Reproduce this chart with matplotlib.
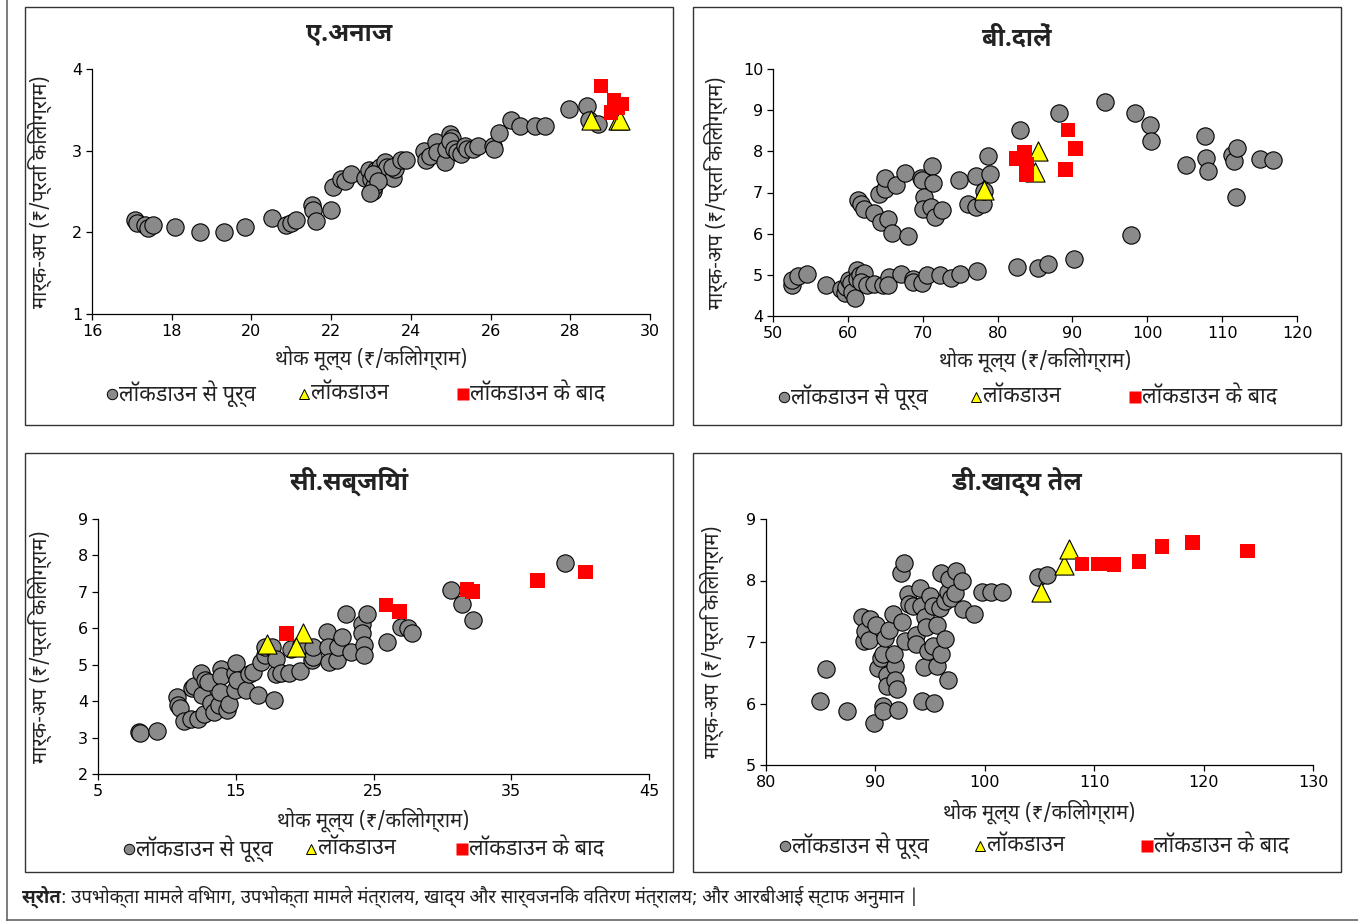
import os
import matplotlib
matplotlib.use("Agg")
import matplotlib.pyplot as plt
from matplotlib import font_manager
from matplotlib.font_manager import FontProperties
from matplotlib.patches import Rectangle
from matplotlib.lines import Line2D

# ---------------------------------------------------------------------------
# Fonts: register the Devanagari family and find a bold face for titles
# ---------------------------------------------------------------------------
BOLD_FILE = None
_bold_rank = 99
for f in font_manager.findSystemFonts():
    name = os.path.basename(f)
    if name.startswith("NotoSansDevanagari"):
        try:
            font_manager.fontManager.addfont(f)
        except Exception:
            pass
        rank = {"NotoSansDevanagari-Bold.ttf": 0,
                "NotoSansDevanagariUI-Bold.ttf": 1}.get(name, 99)
        if rank < _bold_rank:
            BOLD_FILE, _bold_rank = f, rank

HI = ["Noto Sans Devanagari", "DejaVu Sans"]
plt.rcParams["font.family"] = HI


def bold_font(size):
    if BOLD_FILE:
        return dict(fontproperties=FontProperties(fname=BOLD_FILE, size=size))
    return dict(fontsize=size, fontweight="bold")


# ---------------------------------------------------------------------------
# Data
# ---------------------------------------------------------------------------
# A. cereals
cer_pre_x = [17.07, 17.13, 17.32, 17.41, 17.53, 18.09, 18.70, 19.30, 19.83, 20.51,
             20.87, 20.99, 21.13, 21.53, 21.55, 21.62, 22.00, 22.05, 22.25, 22.34,
             22.50, 22.85, 22.94, 22.99, 23.04, 23.08, 23.13, 23.22, 23.27, 23.36,
             23.41, 23.55, 23.59, 23.52, 23.76, 23.87, 23.04, 23.17, 22.97, 24.34,
             24.39, 24.48, 24.62, 24.66, 24.85, 24.89, 24.99, 25.03, 24.99, 25.08,
             25.17, 25.27, 25.36, 25.41, 25.55, 25.69, 26.06, 26.09, 26.22, 26.52,
             26.75, 27.12, 27.36, 27.98, 28.41, 28.47, 28.70]
cer_pre_y = [2.15, 2.11, 2.09, 2.05, 2.09, 2.07, 2.00, 2.00, 2.07, 2.18,
             2.09, 2.11, 2.15, 2.33, 2.27, 2.14, 2.27, 2.56, 2.65, 2.63,
             2.71, 2.67, 2.76, 2.65, 2.51, 2.57, 2.76, 2.80, 2.72, 2.86,
             2.80, 2.67, 2.78, 2.80, 2.88, 2.88, 2.72, 2.63, 2.48, 3.00,
             2.88, 2.94, 3.10, 2.98, 2.86, 3.02, 3.20, 3.16, 3.12, 3.02,
             2.98, 2.96, 3.06, 3.02, 3.02, 3.06, 3.06, 3.02, 3.22, 3.38,
             3.30, 3.30, 3.30, 3.51, 3.55, 3.37, 3.33]
cer_lock_x = [28.52, 29.20, 29.25]
cer_lock_y = [3.38, 3.37, 3.38]
cer_post_x = [28.77, 29.10, 29.30, 29.02, 29.20]
cer_post_y = [3.79, 3.62, 3.57, 3.47, 3.52]

# B. pulses
pul_pre_x = [52.5, 52.6, 53.4, 54.5, 57.1, 59.1, 59.6, 59.8, 60.1, 60.4,
             60.6, 60.9, 61.2, 61.2, 61.6, 62.1, 61.8, 62.5, 63.5, 64.7,
             65.5, 65.4, 67.1, 68.7, 68.7, 69.9, 70.6, 72.3, 73.8, 75.0,
             77.3, 82.6, 85.4, 86.8, 90.2, 97.8,
             61.3, 61.8, 62.1, 63.5, 64.4, 65.4, 65.9, 64.1, 65.0, 65.0,
             66.4, 67.7, 68.0, 69.8, 69.9, 70.2, 70.1, 71.1, 71.6, 72.6,
             71.3, 71.4, 74.9, 76.0, 77.1, 77.1, 78.1, 78.2, 78.7, 79.0,
             83.0, 88.2, 94.4, 98.4, 100.3, 100.5, 105.2, 107.7, 107.9, 108.1,
             111.3, 111.6, 112.0, 111.9, 115.1, 116.8]
pul_pre_y = [4.75, 4.87, 4.97, 5.01, 4.75, 4.65, 4.55, 4.71, 4.87, 4.79,
             4.59, 4.43, 5.11, 4.91, 4.99, 5.05, 4.83, 4.75, 4.77, 4.75,
             4.95, 4.75, 5.03, 4.91, 4.83, 4.79, 4.99, 4.99, 4.93, 5.03,
             5.10, 5.20, 5.16, 5.27, 5.38, 5.96,
             6.81, 6.73, 6.59, 6.51, 6.29, 6.35, 6.02, 6.97, 7.09, 7.35,
             7.19, 7.47, 5.94, 7.35, 7.30, 6.89, 6.60, 6.64, 6.41, 6.57,
             7.65, 7.22, 7.30, 6.71, 6.64, 7.39, 6.71, 7.03, 7.88, 7.45,
             8.52, 8.92, 9.19, 8.93, 8.65, 8.24, 7.66, 8.38, 7.84, 7.52,
             7.92, 7.77, 8.08, 6.89, 7.81, 7.79]
pul_lock_x = [78.2, 85.4, 85.0]
pul_lock_y = [7.06, 8.00, 7.50]
pul_post_x = [82.5, 83.6, 83.9, 83.9, 89.4, 90.4, 89.1]
pul_post_y = [7.82, 7.98, 7.68, 7.42, 8.52, 8.07, 7.56]

# C. vegetables
veg_pre_x = [7.96, 8.04, 9.25, 10.70, 10.78, 10.92, 11.24, 11.72, 11.86, 11.99,
             12.26, 12.48, 12.53, 12.75, 12.66, 13.00, 13.20, 13.40, 13.80, 13.96,
             13.96, 13.87, 14.40, 14.50, 14.95, 14.95, 15.00, 15.10, 15.75, 15.97,
             16.24, 16.60, 16.80, 17.10, 17.10, 17.60, 17.90, 17.90, 17.80, 18.30,
             18.90, 18.98, 19.68, 19.74, 20.50, 20.60, 20.60, 21.60, 21.70, 21.76,
             22.35, 22.40, 22.70, 23.00, 23.40, 24.20, 24.20, 24.30, 24.30, 24.50,
             26.00, 27.00, 27.50, 27.80, 30.60, 31.40, 32.20, 38.90]
veg_pre_y = [3.14, 3.12, 3.19, 4.12, 3.89, 3.80, 3.45, 3.52, 4.35, 4.41,
             3.52, 4.78, 4.17, 4.57, 3.64, 4.53, 3.96, 3.71, 3.89, 4.87,
             4.69, 4.25, 3.76, 3.93, 4.30, 4.78, 5.05, 4.57, 4.30, 4.75,
             4.80, 4.17, 5.07, 5.26, 5.48, 5.48, 4.75, 5.16, 4.04, 4.76,
             4.78, 5.44, 4.84, 5.53, 5.12, 5.21, 5.49, 5.89, 5.48, 5.07,
             5.12, 5.48, 5.77, 6.40, 5.34, 6.13, 5.86, 5.53, 5.26, 6.40,
             5.63, 6.03, 6.01, 5.87, 7.05, 6.66, 6.24, 7.79]
veg_lock_x = [17.3, 19.87, 19.34]
veg_lock_y = [5.58, 5.88, 5.49]
veg_post_x = [18.7, 25.9, 26.9, 31.8, 32.2, 36.9, 40.4]
veg_post_y = [5.85, 6.64, 6.46, 7.06, 7.01, 7.31, 7.54]

# D. edible oils
oil_pre_x = [84.96, 85.46, 87.39, 89.89, 88.79, 88.99, 89.05, 89.40, 89.55, 90.06,
             90.20, 90.55, 90.72, 90.72, 90.72, 90.88, 91.05, 91.20, 91.10, 91.65,
             91.78, 91.78, 91.98, 92.05, 91.70, 92.40, 92.30, 92.60, 92.70, 93.00,
             93.10, 93.40, 93.70, 93.70, 94.10, 94.20, 94.30, 94.40, 94.50, 94.60,
             94.80, 95.00, 95.30, 95.30, 95.40, 95.60, 95.60, 95.90, 96.00, 96.00,
             96.40, 96.40, 96.60, 96.60, 96.70, 96.90, 97.30, 97.40, 97.90, 98.00,
             99.00, 99.70, 100.60, 101.60, 104.90, 105.70]
oil_pre_y = [6.04, 6.56, 5.88, 5.68, 7.40, 7.01, 7.18, 7.04, 7.37, 7.28,
             6.58, 6.74, 6.80, 5.96, 5.88, 7.07, 6.47, 7.20, 6.28, 7.46,
             6.61, 6.39, 6.23, 5.89, 6.80, 7.32, 8.12, 8.28, 7.01, 7.78,
             7.61, 7.58, 7.12, 6.96, 7.87, 7.58, 6.04, 6.59, 7.41, 7.25,
             6.85, 7.74, 6.93, 7.58, 6.01, 7.28, 6.61, 7.55, 8.12, 6.80,
             7.05, 7.66, 6.39, 7.82, 8.02, 7.71, 7.79, 8.16, 8.00, 7.53,
             7.45, 7.81, 7.81, 7.82, 8.06, 8.09]
oil_lock_x = [105.1, 107.2, 107.7]
oil_lock_y = [7.81, 8.26, 8.51]
oil_post_x = [108.9, 110.4, 110.9, 111.8, 114.1, 116.2, 119.0, 124.0]
oil_post_y = [8.27, 8.27, 8.27, 8.26, 8.31, 8.55, 8.62, 8.48]

TITLES = ["ए.अनाज", "बी.दालें", "सी.सब्जियां", "डी.खाद्य तेल"]
XLABEL = "थोक मूल्य (₹/किलोग्राम)"
YLABEL = "मार्क-अप (₹/प्रति किलोग्राम)"
LEG_LABELS = ["लॉकडाउन से पूर्व", "लॉकडाउन", "लॉकडाउन के बाद"]
SOURCE_BOLD = "स्रोत"
SOURCE_TEXT = ": उपभोक्ता मामले विभाग, उपभोक्ता मामले मंत्रालय, खाद्य और सार्वजनिक वितरण मंत्रालय; और आरबीआई स्टाफ अनुमान |"

XLIMS = [(16, 30), (50, 120), (5, 45), (80, 130)]
YLIMS = [(1, 4), (4, 10), (2, 9), (5, 9)]
XTICKS = [[16, 18, 20, 22, 24, 26, 28, 30],
          [50, 60, 70, 80, 90, 100, 110, 120],
          [5, 15, 25, 35, 45],
          [80, 90, 100, 110, 120, 130]]
YTICKS = [[1, 2, 3, 4], [4, 5, 6, 7, 8, 9, 10], [2, 3, 4, 5, 6, 7, 8, 9], [5, 6, 7, 8, 9]]

SERIES = [
    (cer_pre_x, cer_pre_y, cer_lock_x, cer_lock_y, cer_post_x, cer_post_y),
    (pul_pre_x, pul_pre_y, pul_lock_x, pul_lock_y, pul_post_x, pul_post_y),
    (veg_pre_x, veg_pre_y, veg_lock_x, veg_lock_y, veg_post_x, veg_post_y),
    (oil_pre_x, oil_pre_y, oil_lock_x, oil_lock_y, oil_post_x, oil_post_y),
]

# ---------------------------------------------------------------------------
# Layout (pixel boxes in a 1358x923 canvas, top-left origin)
# ---------------------------------------------------------------------------
W, H = 1358, 923
GREY = "#8a8a8a"
YELLOW = "#ffff00"
RED = "#ff0000"

AX_BOXES = [(92, 69, 650, 314), (773, 69, 1297, 316),
            (98, 519, 649, 774), (766, 519, 1313, 765)]
PANEL_BOXES = [(25, 7, 673, 425), (693, 7, 1341, 425),
               (25, 453, 673, 872), (693, 453, 1341, 872)]
TITLE_Y = [35, 35, 481, 481]
XLABEL_Y = [358, 360, 820, 812]
YLABEL_X = [40, 716, 40, 712]
LEGEND_Y = [394, 397, 849, 846]
# marker x-positions of the three legend entries in each panel
LEGEND_MX = [(112, 304, 463), (784, 976, 1135), (129, 311, 462), (785, 980, 1147)]

MARKERS = [dict(marker="o", markersize=7.5, markerfacecolor=GREY,
                markeredgecolor="black", markeredgewidth=0.7),
           dict(marker="^", markersize=7.5, markerfacecolor=YELLOW,
                markeredgecolor="black", markeredgewidth=0.7),
           dict(marker="s", markersize=8, markerfacecolor=RED,
                markeredgecolor="none")]


def fx(px):
    return px / W


def fy(py):
    return 1 - py / H


def draw_legend(fig, i):
    y = fy(LEGEND_Y[i])
    for mx, style, label in zip(LEGEND_MX[i], MARKERS, LEG_LABELS):
        fig.add_artist(Line2D([fx(mx)], [y], transform=fig.transFigure,
                              linestyle="none", **style))
        fig.text(fx(mx + 7), y, label, ha="left", va="center", fontsize=15.5,
                 color="#222222")


def draw_panel(fig, i):
    l, t, r, b = AX_BOXES[i]
    ax = fig.add_axes([fx(l), fy(b), fx(r) - fx(l), fy(t) - fy(b)])
    px, py, lx, ly, qx, qy = SERIES[i]
    ax.scatter(px, py, s=155, c=GREY, edgecolors="black", linewidths=0.8,
               marker="o", zorder=3)
    ax.scatter(lx, ly, s=190, c=YELLOW, edgecolors="black", linewidths=0.8,
               marker="^", zorder=4)
    ax.scatter(qx, qy, s=110, c=RED, edgecolors="none",
               marker="s", zorder=5)

    ax.set_xlim(*XLIMS[i])
    ax.set_ylim(*YLIMS[i])
    ax.set_xticks(XTICKS[i])
    ax.set_yticks(YTICKS[i])
    for side in ("top", "right"):
        ax.spines[side].set_visible(False)
    for side in ("left", "bottom"):
        ax.spines[side].set_linewidth(0.9)
    ax.tick_params(direction="out", length=4, width=0.9, labelsize=11.5, pad=3)
    for lab in ax.get_xticklabels() + ax.get_yticklabels():
        lab.set_family("DejaVu Sans")
    ax.patch.set_alpha(0)

    pl, pt, pr, pb = PANEL_BOXES[i]
    fig.add_artist(Rectangle((fx(pl), fy(pb)), fx(pr) - fx(pl), fy(pt) - fy(pb),
                             transform=fig.transFigure, fill=False,
                             edgecolor="#333333", linewidth=1.0, zorder=0))
    fig.text(fx((pl + pr) / 2), fy(TITLE_Y[i]), TITLES[i], ha="center", va="center",
             color="#222222", **bold_font(18))
    fig.text(fx((l + r) / 2), fy(XLABEL_Y[i]), XLABEL, ha="center", va="center",
             fontsize=14.5, color="#222222")
    fig.text(fx(YLABEL_X[i]), fy((t + b) / 2), YLABEL, ha="center", va="center",
             fontsize=14.5, rotation=90, color="#222222")
    draw_legend(fig, i)
    return ax


def main():
    fig = plt.figure(figsize=(W / 100, H / 100), dpi=100)

    # outer frame (left and bottom rules)
    fig.add_artist(Line2D([fx(7), fx(7)], [fy(0), fy(920)], transform=fig.transFigure,
                          color="#666666", linewidth=1.2))
    fig.add_artist(Line2D([fx(7), fx(W)], [fy(920), fy(920)], transform=fig.transFigure,
                          color="#666666", linewidth=1.2))

    for i in range(4):
        draw_panel(fig, i)

    bold = fig.text(fx(22), fy(897), SOURCE_BOLD, ha="left", va="center",
                    color="#222222", **bold_font(13.3))
    fig.canvas.draw()
    bb = bold.get_window_extent()
    fig.text(bb.x1 / W, fy(897), SOURCE_TEXT, ha="left", va="center", fontsize=13.3,
             color="#222222")

    fig.savefig("out.png", dpi=100)
    plt.close(fig)


if __name__ == "__main__":
    main()
